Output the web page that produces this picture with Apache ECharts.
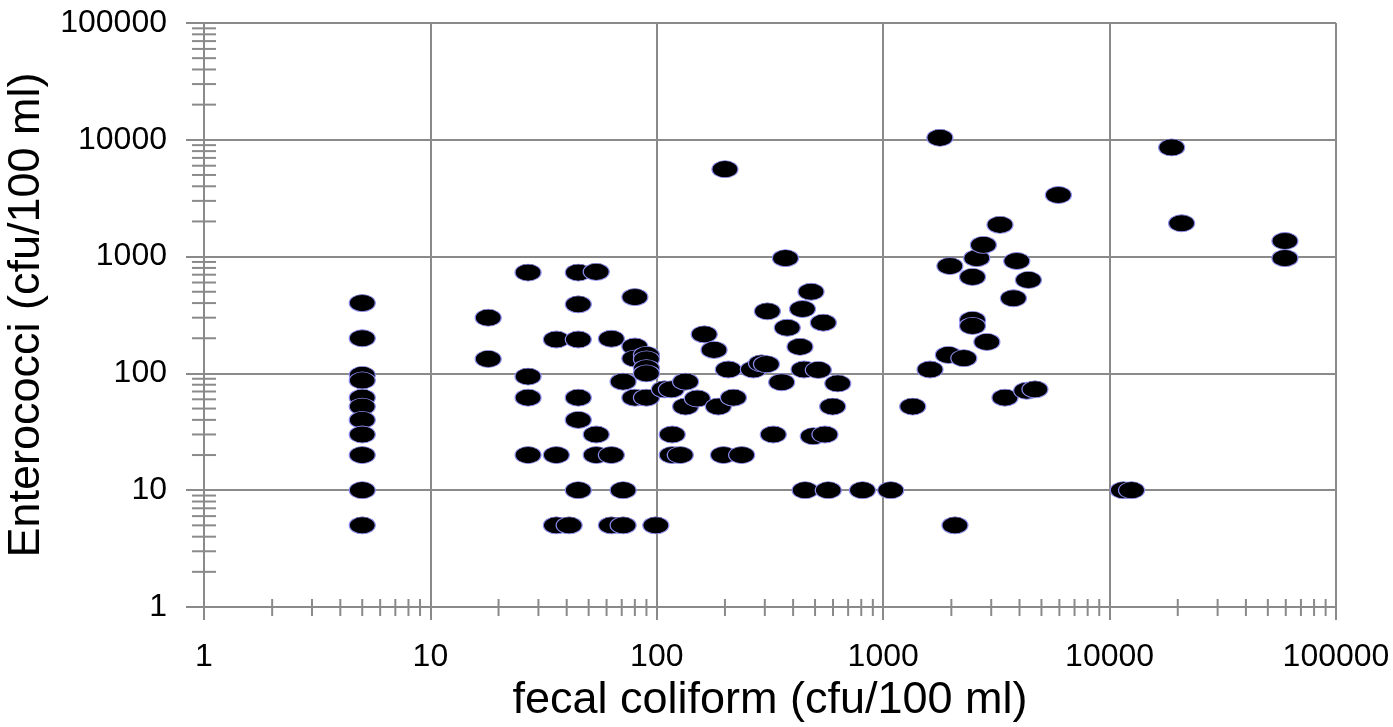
<!DOCTYPE html>
<html>
<head>
<meta charset="utf-8">
<title>Enterococci vs fecal coliform</title>
<script src="https://cdn.jsdelivr.net/npm/echarts@6/dist/echarts.min.js"></script>
<style>
    html, body { margin: 0; padding: 0; background: #fff; }
    #chart { width: 1393px; height: 727px; }
</style>
</head>
<body>
<div id="chart"></div>
<script>
// 坐标轴刻度（对数）
var axisTicks = [1, 10, 100, 1000, 10000, 100000];

// 粪大肠菌群 (x) 和 肠球菌 (y)，单位 cfu/100 ml
var fecalColiform = [
    5, 5, 5, 5, 5, 5, 5, 5, 5, 5, 5,
    18, 18,
    27, 27, 27, 27,
    36, 36, 36, 41,
    45, 45, 45, 45, 45, 45,
    54, 54, 54,
    63, 63, 63,
    71, 71, 71,
    80, 80, 80, 80,
    90, 90, 90, 90, 90,
    99,
    108, 116, 117, 117, 127, 134, 134, 151, 162, 179,
    187, 197, 200, 207, 218, 237, 267, 290, 305, 308,
    327, 356, 370, 377, 429, 440, 447, 452, 480, 491,
    517, 544, 553, 572, 598, 630, 810, 1080, 1350, 1610,
    1780, 1940, 1970, 2075, 2270, 2480, 2480, 2480, 2590, 2770,
    2870, 3280, 3450, 3760, 3890, 4300, 4380, 4680, 5940, 11500,
    12500, 18800, 20800, 59500, 59500
];
var enterococci = [
    400, 200, 97, 87, 62, 52, 40, 30, 20, 10, 5,
    300, 133,
    730, 94, 62, 20,
    195, 20, 5, 5,
    730, 390, 195, 62, 40, 10,
    740, 30, 20,
    198, 20, 5,
    85, 10, 5,
    450, 170, 134, 62,
    144, 132, 111, 100, 62,
    5,
    73, 73, 30, 20, 20, 85, 52, 61, 216, 159,
    52, 20, 5600, 108, 62, 20, 108, 122, 120, 340,
    30, 84, 970, 246, 169, 356, 108, 10, 500, 29,
    107, 272, 30, 10, 52, 82, 10, 10, 52, 108,
    10400, 144, 830, 5, 135, 670, 287, 255, 970, 1260,
    186, 1870, 62, 440, 917, 71, 631, 73, 3370, 10,
    10, 8600, 1930, 1360, 970
];

var chart = echarts.init(document.getElementById('chart'));

function getOption() {
    var points = [];
    for (var i = 0; i < fecalColiform.length; i++) {
        points.push([fecalColiform[i], enterococci[i]]);
    }
    // 次刻度：每个数量级的 2..9 倍
    var minorY = [];
    var minorX = [];
    for (var k = 0; k < axisTicks.length - 1; k++) {
        for (var m = 2; m <= 9; m++) {
            minorY.push([axisTicks[0], m * axisTicks[k]]);
            minorX.push([m * axisTicks[k], axisTicks[0]]);
        }
    }
    var gridColor = '#8a8a8a';
    var labelFont = 'Liberation Sans, Arial, sans-serif';

    var option = {
        animation: false,
        backgroundColor: '#fff',
        grid: {
            left: 204,
            right: 57,
            top: 23,
            bottom: 120,
            containLabel: false,
            outerBoundsMode: 'none'
        },
        xAxis: {
            type: 'log',
            logBase: 10,
            min: axisTicks[0],
            max: axisTicks[axisTicks.length - 1],
            name: 'fecal coliform (cfu/100 ml)',
            nameLocation: 'middle',
            nameGap: 70,
            nameTextStyle: { fontSize: 45, color: '#000', fontFamily: labelFont },
            axisLine: { lineStyle: { color: gridColor, width: 2 } },
            axisTick: { show: true, length: 13, lineStyle: { color: gridColor, width: 2 } },
            axisLabel: {
                color: '#000',
                fontSize: 32,
                fontFamily: labelFont,
                margin: 34,
                formatter: function (v) { return String(Math.round(v)); }
            },
            splitLine: { show: true, lineStyle: { color: gridColor, width: 2 } }
        },
        yAxis: {
            type: 'log',
            logBase: 10,
            min: axisTicks[0],
            max: axisTicks[axisTicks.length - 1],
            name: 'Enterococci (cfu/100 ml)',
            nameLocation: 'middle',
            nameGap: 148,
            nameTextStyle: { fontSize: 45, color: '#000', fontFamily: labelFont },
            axisLine: { lineStyle: { color: gridColor, width: 2 } },
            axisTick: { show: true, length: 18, lineStyle: { color: gridColor, width: 2 } },
            axisLabel: {
                color: '#000',
                fontSize: 32,
                fontFamily: labelFont,
                margin: 37,
                formatter: function (v) { return String(Math.round(v)); }
            },
            splitLine: { show: true, lineStyle: { color: gridColor, width: 2 } }
        },
        series: [
            {
                // y 轴次刻度
                type: 'custom',
                silent: true,
                clip: false,
                data: minorY,
                renderItem: function (params, api) {
                    var p = api.coord([api.value(0), api.value(1)]);
                    return {
                        type: 'line',
                        shape: { x1: p[0] - 12, y1: p[1], x2: p[0] + 12, y2: p[1] },
                        style: { stroke: gridColor, lineWidth: 2 }
                    };
                }
            },
            {
                // x 轴次刻度
                type: 'custom',
                silent: true,
                clip: false,
                data: minorX,
                renderItem: function (params, api) {
                    var p = api.coord([api.value(0), api.value(1)]);
                    return {
                        type: 'line',
                        shape: { x1: p[0], y1: p[1] - 8, x2: p[0], y2: p[1] + 9 },
                        style: { stroke: gridColor, lineWidth: 2 }
                    };
                }
            },
            {
                type: 'scatter',
                data: points,
                symbol: 'circle',
                symbolSize: [26, 17],
                itemStyle: {
                    color: '#000',
                    borderColor: '#8c8cf0',
                    borderWidth: 1,
                    opacity: 1
                },
                z: 5
            }
        ]
    };
    return option;
}

chart.setOption(getOption());
</script>
</body>
</html>
